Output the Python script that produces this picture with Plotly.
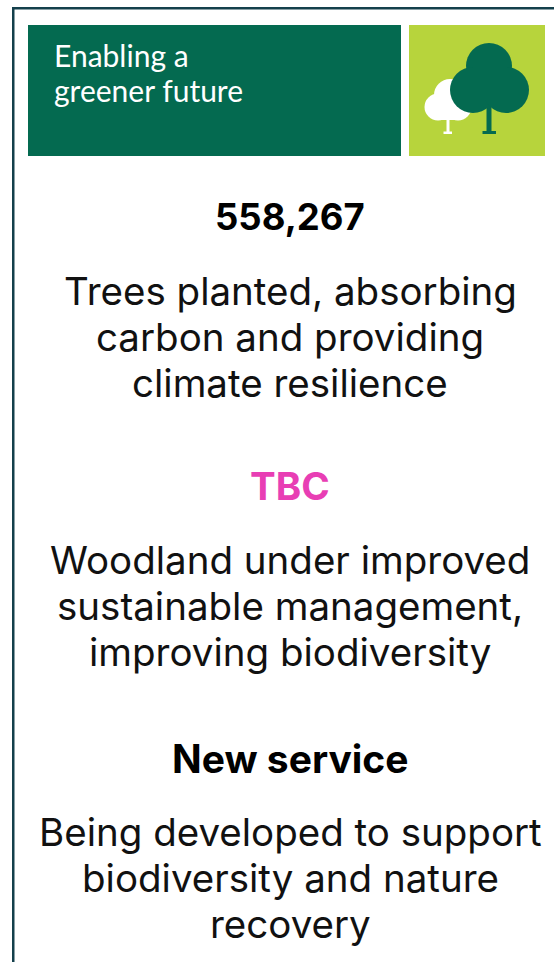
import plotly.graph_objects as go

banner_lines = ["Enabling a", "greener future"]
figures = ["558,267", "TBC", "New service"]
figure_colours = ["#000000", "#E83EB4", "#000000"]
descriptions = [
    ["Trees planted, absorbing", "carbon and providing", "climate resilience"],
    ["Woodland under improved", "sustainable management,", "improving biodiversity"],
    ["Being developed to support", "biodiversity and nature", "recovery"],
]

DARK = "#046A50"
LIME = "#B7D43C"
FRAME = "#14404C"
FONT = "Inter"
W, H = 554, 962

fig = go.Figure()
shapes = []


def rect(x0, y0, x1, y1, c):
    shapes.append(dict(type="rect", x0=x0, y0=y0, x1=x1, y1=y1, fillcolor=c, line_width=0, layer="above"))


def circ(cx, cy, r, c):
    shapes.append(dict(type="circle", x0=cx - r, y0=cy - r, x1=cx + r, y1=cy + r, fillcolor=c, line_width=0, layer="above"))


rect(12, 7, 554, 9.5, FRAME)
rect(12, 7, 14.5, 962, FRAME)
rect(28, 25, 401, 156, DARK)
rect(409, 25, 545, 156, LIME)

# white tree
rect(446.5, 115, 449.5, 133, "white")
rect(443.5, 131.5, 452, 134, "white")
circ(450, 95, 16, "white")
circ(438, 107, 13.5, "white")
circ(458, 107, 13.5, "white")
rect(438, 100, 458, 120, "white")
# dark tree
rect(486.5, 105, 491.5, 133, DARK)
rect(482.5, 131, 496, 134, DARK)
circ(489, 66, 23, DARK)
circ(473, 90, 23, DARK)
circ(506, 90, 23, DARK)
rect(473, 66, 506, 100, DARK)

annotations = []


def text(x, y, s, size, colour, anchor="center", bold=False, font=FONT):
    annotations.append(dict(
        x=x, y=y, xref="x", yref="y", text=f"<b>{s}</b>" if bold else s, showarrow=False,
        xanchor=anchor, yanchor="middle", font=dict(family=font, size=size, color=colour),
    ))


for y, s in zip([55, 90], banner_lines):
    text(52, y, s, 30, "white", anchor="left", font="Lato")

tops = [217, 486, 758]
head_sizes = [36.5, 38.5, 39]
for top, head, colour, lines, hs in zip(tops, figures, figure_colours, descriptions, head_sizes):
    text(290, top, head, hs, colour, bold=True)
    for i, line in enumerate(lines):
        text(290, top + 74 + i * 46, line, 38.5, "#111111")

fig.update_layout(
    width=W, height=H, margin=dict(l=0, r=0, t=0, b=0),
    paper_bgcolor="white", plot_bgcolor="white", showlegend=False,
    xaxis=dict(range=[0, W], visible=False, fixedrange=True),
    yaxis=dict(range=[H, 0], visible=False, fixedrange=True),
    shapes=shapes, annotations=annotations,
)
fig.write_html("out.html", config=dict(displayModeBar=False),
               post_script="document.body.style.margin='0';document.body.style.overflow='hidden';")
